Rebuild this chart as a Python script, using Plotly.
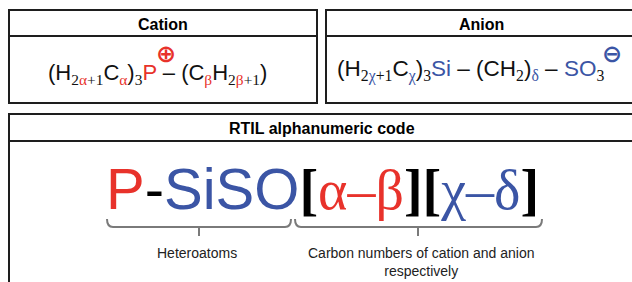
import plotly.graph_objects as go

W, H = 632, 282
RED = "#e8322b"
BLUE = "#3b55a5"
INK = "#1e1e1e"
BRACE = "#7a7a7a"
SANS = "Liberation Sans, Arial, sans-serif"
SERIF = "Liberation Serif, Times New Roman, serif"

# ---- content ----
panel_titles = ["Cation", "Anion", "RTIL alphanumeric code"]
cation_greek = ["α", "β"]
anion_greek = ["χ", "δ"]
code_hetero = ["P", "SiSO"]
brace_labels = ["Heteroatoms", "Carbon numbers of cation and anion<br>respectively"]
charges = ["⊕", "⊖"]


def c(txt, col):
    return f"<span style='color:{col}'>{txt}</span>"


def serif(txt):
    return f"<span style='font-family:{SERIF}'>{txt}</span>"


a, b = (c(g, RED) for g in cation_greek)
x_, d = (c(g, BLUE) for g in anion_greek)

cation_formula = (
    f"(H<sub>{serif('2' + a + '+1')}</sub>C<sub>{serif(a)}</sub>)<sub>{serif('3')}</sub>"
    f"{c('P', RED)} – (C<sub>{serif(b)}</sub>H<sub>{serif('2' + b + '+1')}</sub>)"
)
anion_formula = (
    f"(H<sub>{serif('2' + x_ + '+1')}</sub>C<sub>{serif(x_)}</sub>)<sub>{serif('3')}</sub>"
    f"{c('Si', BLUE)} – (CH<sub>{serif('2')}</sub>)<sub>{serif(d)}</sub> – "
    f"{c('SO', BLUE)}<sub>{serif('3')}</sub>"
)
code_text = (
    f"{c(code_hetero[0], RED)}-{c(code_hetero[1], BLUE)}"
    f"<span style='font-family:{SERIF};font-size:56px'><b>[</b>"
    f"{c(cation_greek[0] + '–' + cation_greek[1], RED)}<b>][</b>"
    f"{c(anion_greek[0] + '–' + anion_greek[1], BLUE)}<b>]</b></span>"
)

fig = go.Figure()

shapes = []
# boxes: (x0, y0, x1, y1, header line y)
boxes = [(9, 10, 317, 103, 36), (326, 10, 640, 103, 36), (9, 114, 640, 300, 141)]
for x0, y0, x1, y1, hy in boxes:
    shapes.append(dict(type="rect", x0=x0, y0=y0, x1=x1, y1=y1,
                       line=dict(color=INK, width=2)))
    shapes.append(dict(type="line", x0=x0, y0=hy, x1=x1, y1=hy,
                       line=dict(color=INK, width=2)))


def brace(x0, x1, xc, ytop=219, ymid=227, ybot=236):
    return (f"M {x0} {ytop} Q {x0} {ymid} {x0+6} {ymid} L {x1-6} {ymid} "
            f"Q {x1} {ymid} {x1} {ytop} M {xc} {ymid} L {xc} {ybot}")


for x0, x1, xc in [(107, 291, 199), (295, 542, 418)]:
    shapes.append(dict(type="path", path=brace(x0, x1, xc),
                       line=dict(color=BRACE, width=2)))

ann = []
ann.append(dict(x=163, y=24, text=f"<b>{panel_titles[0]}</b>", font=dict(size=16, family=SANS, color="#000")))
ann.append(dict(x=481, y=24, text=f"<b>{panel_titles[1]}</b>", font=dict(size=16, family=SANS, color="#000")))
ann.append(dict(x=322, y=128, text=f"<b>{panel_titles[2]}</b>", font=dict(size=16, family=SANS, color="#000")))

ann.append(dict(x=46, y=74, xanchor="left", text=cation_formula,
                font=dict(size=22, family=SANS, color="#111")))
ann.append(dict(x=166, y=54, text=f"<b>{charges[0]}</b>", font=dict(size=24, family="DejaVu Sans", color=RED)))

ann.append(dict(x=335, y=70, xanchor="left", text=anion_formula,
                font=dict(size=22.5, family=SANS, color="#111")))
ann.append(dict(x=612, y=54, text=f"<b>{charges[1]}</b>", font=dict(size=24, family="DejaVu Sans", color=BLUE)))

ann.append(dict(x=104, y=188, xanchor="left", text=code_text,
                font=dict(size=58, family=SANS, color="#000")))

ann.append(dict(x=197, y=253, text=brace_labels[0], font=dict(size=14, family=SANS, color="#222")))
ann.append(dict(x=421, y=262, text=brace_labels[1], font=dict(size=14, family=SANS, color="#222")))

for an in ann:
    an.update(xref="x", yref="y", showarrow=False)
    an.setdefault("xanchor", "center")
    an.setdefault("yanchor", "middle")

fig.update_layout(
    width=W, height=H,
    margin=dict(l=0, r=0, t=0, b=0),
    paper_bgcolor="white", plot_bgcolor="white",
    xaxis=dict(range=[0, W], visible=False, fixedrange=True),
    yaxis=dict(range=[H, 0], visible=False, fixedrange=True),
    shapes=shapes, annotations=ann, showlegend=False,
)

fig.write_html("out.html", config={"displayModeBar": False},
               post_script="document.body.style.margin='0';document.body.style.overflow='hidden';")
